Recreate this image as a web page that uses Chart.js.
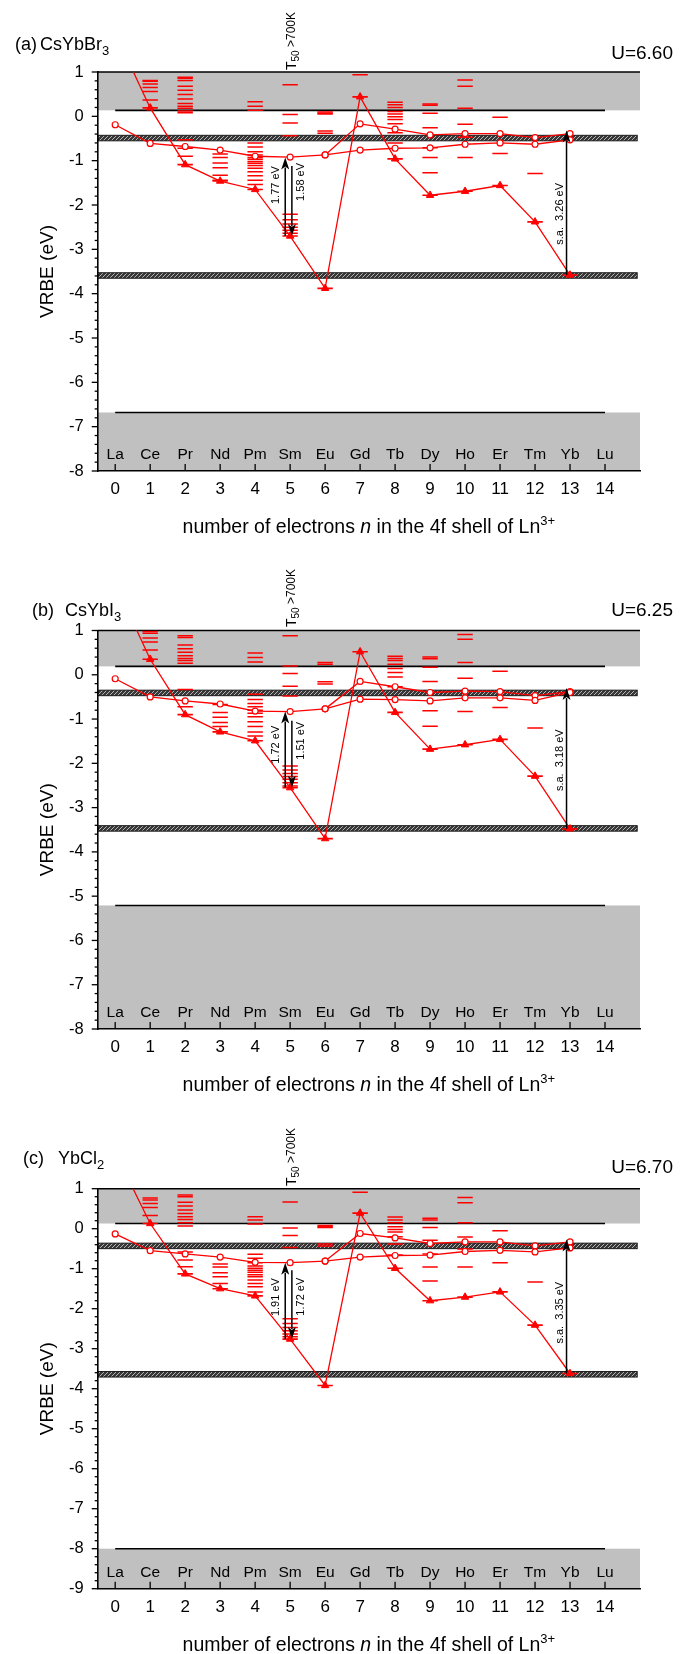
<!DOCTYPE html>
<html>
<head>
<meta charset="utf-8">
<script src="https://cdn.jsdelivr.net/npm/chart.js@4.4.0/dist/chart.umd.min.js"></script>
<style>
  html, body { margin: 0; padding: 0; background: #fff; }
  body { width: 690px; height: 1654px; position: relative; overflow: hidden; }
  canvas { position: absolute; left: 0; }
</style>
</head>
<body>
<canvas id="ca" width="690" height="545" style="top:0px"></canvas>
<canvas id="cb" width="690" height="555" style="top:545px"></canvas>
<canvas id="cc" width="690" height="554" style="top:1100px"></canvas>
<script>
// ---------- shared axis data ----------
const lnNames = ['La', 'Ce', 'Pr', 'Nd', 'Pm', 'Sm', 'Eu', 'Gd', 'Tb', 'Dy', 'Ho', 'Er', 'Tm', 'Yb', 'Lu'];
const nValues = [0, 1, 2, 3, 4, 5, 6, 7, 8, 9, 10, 11, 12, 13, 14];
const yTicks8 = [1, 0, -1, -2, -3, -4, -5, -6, -7, -8];
const yTicks9 = [1, 0, -1, -2, -3, -4, -5, -6, -7, -8, -9];

// ---------- (a) CsYbBr3 ----------
const uA = 6.60;
const cbA = 0.135;              // conduction band bottom
const vbA = -6.68;              // valence band top
const ybA = [-0.49, -3.59];     // Yb2+ reference levels (hatched)
const groundA = [1.88, 0.19, -1.09, -1.46, -1.65, -2.70, -3.88, 0.44, -0.96, -1.78, -1.69, -1.56, -2.38, -3.58];
const d5LowA = [-0.19, -0.61, -0.68, -0.76, -0.90, -0.92, -0.87, -0.76, -0.72, -0.71, -0.63, -0.60, -0.63, -0.53];
const d5HighA = [null, null, null, null, null, null, -0.87, -0.17, -0.29, -0.42, -0.39, -0.39, -0.48, -0.39];
const levelsA = [
  [],
  [0.81, 0.79, 0.73, 0.65, 0.56, 0.37],
  [0.88, 0.86, 0.81, 0.68, 0.59, 0.49, 0.39, 0.29, 0.23, 0.18, 0.12, 0.08, -0.53, -0.72, -0.90],
  [-0.85, -0.93, -1.05, -1.16, -1.33, -1.44],
  [0.33, 0.23, 0.14, -0.60, -0.69, -0.80, -0.87, -0.93, -0.97, -1.02, -1.06, -1.11, -1.17, -1.25, -1.34, -1.44, -1.54],
  [0.71, 0.04, -0.15, -0.44, -2.21, -2.33, -2.43, -2.50, -2.57, -2.64],
  [0.10, 0.07, 0.05, -0.33, -0.38],
  [0.94],
  [0.32, 0.26, 0.20, 0.11, 0.05, -0.01, -0.07, -0.17, -0.37, -0.60],
  [0.28, 0.25, 0.07, -0.26, -0.71, -0.93, -1.27],
  [0.82, 0.68, 0.18, -0.18, -0.47, -0.93],
  [-0.02, -0.84],
  [-1.29],
  []
];
const smGapsA = [1.77, 1.58];   // Sm2+ transitions (eV)
const saA = 3.26;               // Yb2+ spin-allowed transition (eV)

// ---------- (b) CsYbI3 ----------
const uB = 6.25;
const cbB = 0.19;
const vbB = -5.21;
const ybB = [-0.41, -3.47];
const groundB = [2.06, 0.35, -0.90, -1.29, -1.49, -2.55, -3.70, 0.52, -0.85, -1.68, -1.58, -1.46, -2.29, -3.48];
const d5LowB = [-0.09, -0.50, -0.59, -0.66, -0.82, -0.83, -0.77, -0.55, -0.56, -0.59, -0.52, -0.52, -0.58, -0.40];
const d5HighB = [null, null, null, null, null, null, -0.77, -0.15, -0.27, -0.40, -0.37, -0.38, -0.47, -0.38];
const levelsB = [
  [],
  [0.98, 0.94, 0.83, 0.74, 0.56],
  [0.88, 0.84, 0.67, 0.59, 0.51, 0.43, 0.37, 0.32, 0.26, -0.33, -0.72],
  [-0.67, -0.85, -0.96, -1.08, -1.17],
  [0.49, 0.39, 0.29, -0.44, -0.56, -0.65, -0.72, -0.80, -0.87, -0.95, -1.06, -1.17, -1.29, -1.38],
  [0.88, 0.20, 0.03, -0.26, -0.48, -2.06, -2.15, -2.23, -2.30, -2.36, -2.44, -2.51],
  [0.28, 0.24, -0.16, -0.21],
  [],
  [0.42, 0.37, 0.32, 0.24, 0.14, 0.05, -0.05, -0.27],
  [0.40, 0.36, 0.17, -0.15, -0.81, -1.16],
  [0.91, 0.80, 0.28, -0.08, -0.83],
  [0.08, -0.74],
  [-1.20],
  []
];
const smGapsB = [1.72, 1.51];
const saB = 3.18;

// ---------- (c) YbCl2 ----------
const uC = 6.70;
const cbC = 0.13;
const vbC = -8.0;
const ybC = [-0.43, -3.64];
const groundC = [1.91, 0.13, -1.13, -1.50, -1.68, -2.76, -3.92, 0.39, -0.99, -1.80, -1.71, -1.58, -2.41, -3.62];
const d5LowC = [-0.13, -0.55, -0.63, -0.71, -0.84, -0.85, -0.81, -0.71, -0.67, -0.66, -0.57, -0.54, -0.58, -0.48];
const d5HighC = [null, null, null, null, null, null, -0.81, -0.12, -0.23, -0.37, -0.33, -0.33, -0.43, -0.33];
const levelsC = [
  [],
  [0.77, 0.72, 0.63, 0.53, 0.33],
  [0.84, 0.80, 0.66, 0.57, 0.47, 0.38, 0.30, 0.23, 0.15, 0.07, -0.58, -0.78, -0.95],
  [-0.88, -0.96, -1.10, -1.20, -1.37],
  [0.30, 0.22, 0.12, -0.64, -0.74, -0.85, -0.93, -0.99, -1.04, -1.09, -1.15, -1.20, -1.28, -1.37, -1.45, -1.58],
  [0.67, 0.02, -0.17, -0.47, -2.25, -2.37, -2.47, -2.55, -2.63, -2.70],
  [0.08, 0.05, 0.03, -0.38, -0.43],
  [0.91],
  [0.29, 0.22, 0.15, 0.05, -0.02, -0.08, -0.20, -0.38, -0.66],
  [0.26, 0.22, 0.03, -0.29, -0.63, -0.96, -1.31],
  [0.78, 0.65, 0.15, -0.21, -0.51, -0.96],
  [-0.05, -0.85],
  [-1.33],
  []
];
const smGapsC = [1.91, 1.72];
const saC = 3.35;

// ---------- drawing helpers ----------
const RED = '#ff0000';
const FONT = "'Liberation Sans', Arial, Helvetica, sans-serif";
Chart.defaults.font.family = FONT;
Chart.defaults.color = '#000';

const fontOf = (size, italic) => (italic ? 'italic ' : '') + size + 'px ' + FONT;

// small diagonal hatch tile for the Yb2+ bands
const hatchTile = (() => {
  const c = document.createElement('canvas');
  c.width = 4; c.height = 4;
  const g = c.getContext('2d');
  g.fillStyle = '#383838';
  g.fillRect(0, 0, 4, 4);
  g.strokeStyle = '#b4b4b4';
  g.lineWidth = 1;
  g.beginPath();
  g.moveTo(-1, 5); g.lineTo(5, -1);
  g.stroke();
  return c;
})();

function seg(ctx, x0, y0, x1, y1) {
  ctx.beginPath(); ctx.moveTo(x0, y0); ctx.lineTo(x1, y1); ctx.stroke();
}

// text made of runs with their own size / offset, drawn on a common baseline
function drawRich(ctx, parts, x, y, align) {
  let w = 0;
  for (const p of parts) { ctx.font = fontOf(p.size, p.italic); w += ctx.measureText(p.t).width; }
  let cx = align === 'center' ? x - w / 2 : align === 'right' ? x - w : x;
  ctx.textAlign = 'left';
  ctx.textBaseline = 'alphabetic';
  for (const p of parts) {
    ctx.font = fontOf(p.size, p.italic);
    ctx.fillText(p.t, cx, y + (p.dy || 0));
    cx += ctx.measureText(p.t).width;
  }
}

function arrow(ctx, x, yFrom, yTo) {
  const dir = Math.sign(yTo - yFrom);
  const hl = 12, hw = 4;
  ctx.strokeStyle = '#000';
  ctx.fillStyle = '#000';
  ctx.lineWidth = 1.5;
  seg(ctx, x, yFrom, x, yTo - dir * (hl - 2));
  ctx.beginPath();
  ctx.moveTo(x, yTo);
  ctx.lineTo(x - hw, yTo - dir * hl);
  ctx.lineTo(x, yTo - dir * (hl - 3));
  ctx.lineTo(x + hw, yTo - dir * hl);
  ctx.closePath();
  ctx.fill();
}

function vertText(ctx, text, x, y, size) {
  ctx.save();
  ctx.translate(x, y);
  ctx.rotate(-Math.PI / 2);
  ctx.font = fontOf(size);
  ctx.textAlign = 'center';
  ctx.textBaseline = 'middle';
  ctx.fillText(text, 0, 0);
  ctx.restore();
}

function panelPlugin(P) {
  return {
    id: 'vrbePanel',
    beforeDraw(chart) {
      const { ctx, chartArea: a, scales: { x, y } } = chart;
      ctx.save();
      const yCb = y.getPixelForValue(P.cb);
      const yVb = y.getPixelForValue(P.vb);
      // conduction band and valence band areas
      ctx.fillStyle = '#c0c0c0';
      ctx.fillRect(a.left, a.top, a.right - a.left, yCb - a.top);
      ctx.fillRect(a.left, yVb, a.right - a.left, a.bottom - yVb);
      // hatched Yb2+ levels
      const xe = x.getPixelForValue(14.92);
      const pat = ctx.createPattern(hatchTile, 'repeat');
      for (const v of P.yb) {
        const yc = y.getPixelForValue(v);
        ctx.fillStyle = pat;
        ctx.fillRect(a.left, yc - 2.75, xe - a.left, 5.5);
        ctx.strokeStyle = '#1a1a1a';
        ctx.lineWidth = 1;
        ctx.strokeRect(a.left, yc - 2.75, xe - a.left, 5.5);
      }
      // band edges
      ctx.strokeStyle = '#000';
      ctx.lineWidth = 1.6;
      const x0 = x.getPixelForValue(nValues[0]);
      const x14 = x.getPixelForValue(nValues[14]);
      seg(ctx, x0, yCb, x14, yCb);
      seg(ctx, x0, yVb, x14, yVb);
      ctx.lineWidth = 1.5;
      seg(ctx, a.left, a.top, a.right, a.top);
      ctx.restore();
    },
    afterDraw(chart) {
      const { ctx, chartArea: a, scales: { x, y } } = chart;
      ctx.save();
      ctx.strokeStyle = '#000';
      ctx.fillStyle = '#000';
      // y ticks: majors every 1 eV, minors every 0.2 eV
      ctx.lineWidth = 1.3;
      const steps = Math.round((1 - P.yMin) * 5);
      for (let i = 0; i <= steps; i++) {
        const py = y.getPixelForValue(1 - i * 0.2);
        const len = i % 5 === 0 ? 6 : 3;
        seg(ctx, a.left - len, py, a.left, py);
      }
      // x ticks pointing into the plot
      for (const n of nValues) {
        const px = x.getPixelForValue(n);
        seg(ctx, px, a.bottom, px, a.bottom - 7);
      }
      // element names
      ctx.font = fontOf(15.5);
      ctx.textAlign = 'center';
      ctx.textBaseline = 'alphabetic';
      lnNames.forEach((s, n) => ctx.fillText(s, x.getPixelForValue(n), a.bottom - 12));

      // Sm2+ arrows
      const smG = P.ground[5];
      const xUp = x.getPixelForValue(4.86), xDn = x.getPixelForValue(5.05);
      arrow(ctx, xUp, y.getPixelForValue(smG), y.getPixelForValue(smG + P.smGaps[0]));
      arrow(ctx, xDn, y.getPixelForValue(smG + P.smGaps[1]), y.getPixelForValue(smG));
      vertText(ctx, P.smGaps[0].toFixed(2) + ' eV', xUp - 9.5, y.getPixelForValue(P.smLabelY[0]), 11);
      vertText(ctx, P.smGaps[1].toFixed(2) + ' eV', xDn + 9.5, y.getPixelForValue(P.smLabelY[1]), 11);
      // Yb2+ spin-allowed arrow
      const ybG = P.ground[13];
      const xSa = x.getPixelForValue(12.9);
      arrow(ctx, xSa, y.getPixelForValue(ybG), y.getPixelForValue(ybG + P.sa));
      vertText(ctx, 's.a.  ' + P.sa.toFixed(2) + ' eV', xSa - 7, y.getPixelForValue(P.saLabelY), 11);

      // T50 > 700K note above Sm
      ctx.save();
      ctx.translate(x.getPixelForValue(5) + 5.5, a.top - P.t50Gap);
      ctx.rotate(-Math.PI / 2);
      ctx.fillStyle = '#000';
      drawRich(ctx, [
        { t: 'T', size: 14 },
        { t: '50', size: 10, dy: 3 },
        { t: ' >700K', size: 12, dy: -1 }
      ], 0, 0, 'left');
      ctx.restore();

      // panel title and U value
      drawRich(ctx, [{ t: P.tag, size: 18 }], P.tagX, a.top + P.titleDy, 'left');
      drawRich(ctx, [{ t: P.name, size: 18 }, { t: P.sub, size: 13, dy: 5 }], P.nameX, a.top + P.titleDy, 'left');
      drawRich(ctx, [{ t: 'U=' + P.u.toFixed(2), size: 19 }], 673, a.top + P.uDy, 'right');

      // x axis title
      drawRich(ctx, [
        { t: 'number of electrons ', size: 19.5 },
        { t: 'n', size: 19.5, italic: true },
        { t: ' in the 4f shell of Ln', size: 19.5 },
        { t: '3+', size: 13, dy: -8 }
      ], (a.left + a.right) / 2, a.bottom + 62, 'center');
      ctx.restore();
    }
  };
}

function pts(arr) {
  const out = [];
  arr.forEach((v, i) => { if (v !== null) out.push({ x: nValues[i], y: v }); });
  return out;
}

function buildPanel(P) {
  const canvas = document.getElementById(P.canvas);
  const xHeight = canvas.height - P.bottom;
  const levelPts = [];
  P.levels.forEach((arr, n) => arr.forEach(v => levelPts.push({ x: nValues[n], y: v })));
  const circleStyle = {
    borderColor: RED, borderWidth: 1.3, showLine: true, fill: false, tension: 0,
    pointStyle: 'circle', pointRadius: 3, pointBackgroundColor: '#fff',
    pointBorderColor: RED, pointBorderWidth: 1.2
  };
  new Chart(canvas, {
    type: 'line',
    data: {
      datasets: [
        Object.assign({ data: pts(P.d5Low) }, circleStyle),
        Object.assign({ data: pts(P.d5High) }, circleStyle),
        {
          data: pts(P.ground), borderColor: RED, borderWidth: 1.3, showLine: true, tension: 0,
          pointStyle: 'triangle', pointRadius: 4.3, pointBackgroundColor: RED,
          pointBorderColor: RED, pointBorderWidth: 1, clip: 0
        },
        {
          data: pts(P.ground), showLine: false, pointStyle: 'line', pointRadius: 7.7,
          pointBorderColor: RED, pointBorderWidth: 1.6, clip: 0
        },
        {
          data: levelPts, showLine: false, pointStyle: 'line', pointRadius: 7.7,
          pointBorderColor: RED, pointBorderWidth: 1.5
        }
      ]
    },
    options: {
      responsive: false,
      animation: false,
      events: [],
      devicePixelRatio: 1,
      layout: { padding: { top: P.top, right: 50, left: 0, bottom: 0 } },
      plugins: { legend: { display: false }, tooltip: { enabled: false } },
      scales: {
        x: {
          type: 'linear', min: -0.5, max: 15,
          afterBuildTicks: s => { s.ticks = nValues.map(v => ({ value: v })); },
          afterFit: s => { s.height = xHeight; },
          grid: { display: false, drawTicks: false },
          border: { display: true, color: '#000', width: 1.6 },
          ticks: { font: { size: 17 }, color: '#000', padding: 8, maxRotation: 0, autoSkip: false }
        },
        y: {
          type: 'linear', min: P.yMin, max: 1,
          afterBuildTicks: s => { s.ticks = P.yTicks.map(v => ({ value: v })); },
          afterFit: s => { s.width = 97.7; },
          grid: { display: false, drawTicks: false },
          border: { display: true, color: '#000', width: 1.6 },
          ticks: { font: { size: 16.5 }, color: '#000', padding: 14, autoSkip: false },
          title: {
            display: true, text: 'VRBE (eV)', color: '#000',
            font: { size: 19 }, padding: { top: 36.6, bottom: 0 }
          }
        }
      }
    },
    plugins: [panelPlugin(P)]
  });
}

buildPanel({
  canvas: 'ca', top: 72, bottom: 471, yMin: -8, yTicks: yTicks8,
  cb: cbA, vb: vbA, yb: ybA, ground: groundA, d5Low: d5LowA, d5High: d5HighA, levels: levelsA,
  smGaps: smGapsA, smLabelY: [-1.55, -1.48], sa: saA, saLabelY: -2.2, u: uA,
  tag: '(a)', tagX: 15, name: 'CsYbBr', sub: '3', nameX: 40, titleDy: -22.5, uDy: -13.5, t50Gap: 2
});
buildPanel({
  canvas: 'cb', top: 85.5, bottom: 484, yMin: -8, yTicks: yTicks8,
  cb: cbB, vb: vbB, yb: ybB, ground: groundB, d5Low: d5LowB, d5High: d5HighB, levels: levelsB,
  smGaps: smGapsB, smLabelY: [-1.58, -1.49], sa: saB, saLabelY: -1.93, u: uB,
  tag: '(b)', tagX: 32, name: 'CsYbI', sub: '3', nameX: 65, titleDy: -15, uDy: -15, t50Gap: 3.5
});
buildPanel({
  canvas: 'cc', top: 88.7, bottom: 488.7, yMin: -9, yTicks: yTicks9,
  cb: cbC, vb: vbC, yb: ybC, ground: groundC, d5Low: d5LowC, d5High: d5HighC, levels: levelsC,
  smGaps: smGapsC, smLabelY: [-1.71, -1.70], sa: saC, saLabelY: -2.1, u: uC,
  tag: '(c)', tagX: 23, name: 'YbCl', sub: '2', nameX: 58, titleDy: -24.7, uDy: -15.7, t50Gap: 2.7
});
</script>
</body>
</html>
